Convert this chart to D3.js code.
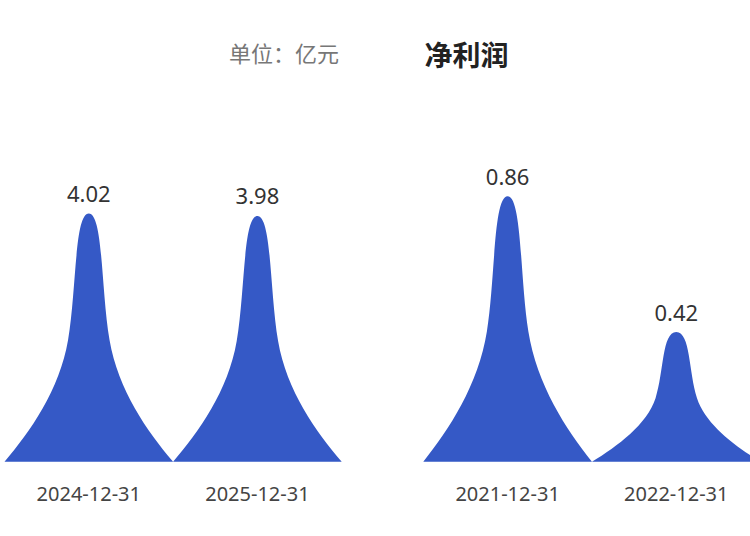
<!DOCTYPE html>
<html>
<head>
<meta charset="utf-8">
<script src="https://cdn.jsdelivr.net/npm/d3@7/dist/d3.min.js"></script>
<style>
  html, body { margin: 0; padding: 0; background: #ffffff; }
  svg { display: block; font-family: "Noto Sans", "Noto Sans CJK SC", sans-serif; }
</style>
</head>
<body>
<svg id="chart" width="750" height="536"></svg>
<script>
// ---- data ----
const leftCategories = ["2024-12-31", "2025-12-31"];
const leftValues = [4.02, 3.98];
const rightCategories = ["2021-12-31", "2022-12-31"];
const rightValues = [0.86, 0.42];
const leftYDomain = [0, 5];
const rightYDomain = [0, 1];
const titleText = "净利润";
const unitText = "单位：亿元";

// peak symbol in a 100x100 unit box (like an ECharts path:// symbol)
const PEAK_SYMBOL = "M100,100 C84.76,88 67.3,71 62.3,51 C57.3,31 58.5,0 50,0 C41.5,0 42.7,31 37.7,51 C32.7,71 15.24,88 0,100 Z";

const svg = d3.select("#chart");
const color = "#3559c6";
const baseY = 461.7, topY = 153;

function panel(categories, values, xRange, yDomain) {
  const x = d3.scaleBand().domain(categories).range(xRange).paddingInner(0).paddingOuter(0);
  const y = d3.scaleLinear().domain(yDomain).range([baseY, topY]);
  const g = svg.append("g");
  const data = categories.map((c, i) => ({ c, v: values[i] }));

  g.selectAll("path.peak").data(data).join("path")
    .attr("class", "peak")
    .attr("d", PEAK_SYMBOL)
    .attr("fill", color)
    .attr("transform", d => {
      const h = y(0) - y(d.v);
      return `translate(${x(d.c)},${y(d.v)}) scale(${x.bandwidth() / 100},${h / 100})`;
    });

  g.selectAll("text.val").data(data).join("text")
    .attr("class", "val")
    .attr("x", d => x(d.c) + x.bandwidth() / 2)
    .attr("y", d => y(d.v) - 11.5)
    .attr("text-anchor", "middle")
    .attr("font-size", 22)
    .attr("fill", "#333")
    .text(d => d.v.toFixed(2));

  const axis = d3.axisBottom(x).tickSize(0).tickPadding(25.5);
  const ag = g.append("g").attr("transform", `translate(0,${baseY})`).call(axis);
  ag.select(".domain").remove();
  ag.selectAll("text")
    .attr("font-size", 20)
    .attr("fill", "#444")
    .attr("font-family", "\"Noto Sans\", sans-serif");
}

panel(leftCategories, leftValues, [4.5, 341.7], leftYDomain);
panel(rightCategories, rightValues, [423.3, 760.6], rightYDomain);

svg.append("text")
  .attr("x", 284).attr("y", 51.5)
  .attr("text-anchor", "middle")
  .attr("dominant-baseline", "central")
  .attr("font-family", "\"Noto Sans CJK SC\", sans-serif")
  .attr("font-size", 22)
  .attr("fill", "#777")
  .text(unitText);

svg.append("text")
  .attr("x", 466.5).attr("y", 54)
  .attr("text-anchor", "middle")
  .attr("dominant-baseline", "central")
  .attr("font-family", "\"Noto Sans CJK SC\", sans-serif")
  .attr("font-size", 28)
  .attr("font-weight", "bold")
  .attr("fill", "#222")
  .text(titleText);
</script>
</body>
</html>
